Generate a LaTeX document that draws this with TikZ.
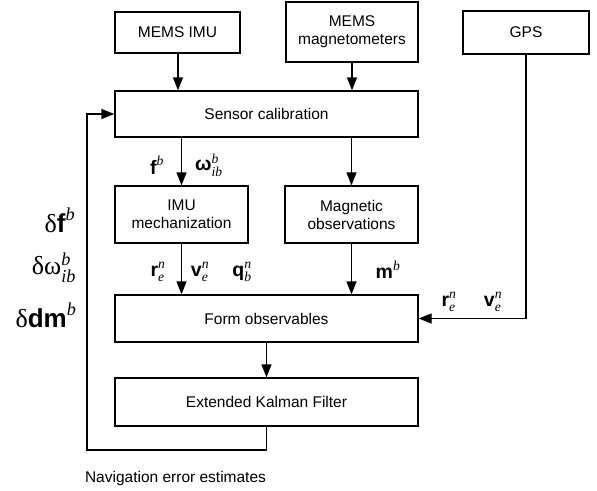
\documentclass[tikz,border=0pt]{standalone}
\usepackage{amsmath}
\usepackage{fontspec}
\setmainfont{Liberation Sans}
\newfontfamily\tms{Liberation Serif}
\usetikzlibrary{arrows.meta,positioning}
\newcommand{\sit}[1]{\text{\tms\itshape #1}}
\newcommand{\bsym}[1]{\textbf{#1}}
\begin{document}
\begin{tikzpicture}[x=1pt,y=-1pt,
  box/.style={draw,line width=1.2pt,inner sep=0pt,align=center,font=\fontsize{15.5}{18}\selectfont},
  conn/.style={line width=1.2pt,-{Triangle[length=13pt,width=10pt]}},
  lbl/.style={inner sep=0pt,font=\fontsize{19.5}{22}\selectfont},
  biglbl/.style={inner sep=0pt,font=\fontsize{26}{28}\selectfont}]
\useasboundingbox (0,0) rectangle (597,490);
\node[box,minimum width=125pt,minimum height=41pt] (imu) at (177.5,32.5) {MEMS IMU};
\node[box,minimum width=132pt,minimum height=60pt] (mag) at (352,32) {MEMS\\magnetometers};
\node[box,minimum width=126pt,minimum height=43pt] (gps) at (526,32.5) {GPS};
\node[box,minimum width=303pt,minimum height=46pt] (cal) at (266.5,114) {Sensor calibration};
\node[box,minimum width=133pt,minimum height=57pt] (mech) at (181.5,214.5) {IMU\\mechanization};
\node[box,minimum width=133pt,minimum height=57pt] (mobs) at (351.5,214.5) {Magnetic\\observations};
\node[box,minimum width=303pt,minimum height=47pt] (form) at (266.5,318.5) {Form observables};
\node[box,minimum width=303pt,minimum height=48pt] (ekf) at (266.5,402) {Extended Kalman Filter};
\coordinate (fbb) at (266.5,450);
\coordinate (fbl) at (87,450);
\draw[conn] (imu.south -| 178,0) -- (cal.north -| 178,0);
\draw[conn] (mag.south) -- (cal.north -| mag.south);
\draw[conn] (cal.south -| mech.north) -- (mech.north);
\draw[conn] (cal.south -| mobs.north) -- (mobs.north);
\draw[conn] (mech.south) -- (form.north -| mech.south);
\draw[conn] (mobs.south) -- (form.north -| mobs.south);
\draw[conn] (form.south) -- (ekf.north);
\draw[conn] (gps.south) |- (form.east);
\draw[conn] (ekf.south) -- (fbb) -- (fbl) |- (cal.west);
\node[lbl] (lf) at (157,165) {$\bsym{f}^{\sit{b}}$};
\node[lbl] (lw) at (209,165) {$\bsym{ω}^{\sit{b}}_{\sit{ib}}$};
\node[lbl] (lr) at (158,272) {$\bsym{r}^{\sit{n}}_{\sit{e}}$};
\node[lbl] (lv) at (200,272) {$\bsym{v}^{\sit{n}}_{\sit{e}}$};
\node[lbl] (lq) at (242,272) {$\bsym{q}^{\sit{n}}_{\sit{b}}$};
\node[lbl] (lm) at (388,270) {$\bsym{m}^{\sit{b}}$};
\node[lbl] (lr2) at (449,302) {$\bsym{r}^{\sit{n}}_{\sit{e}}$};
\node[lbl] (lv2) at (493,302) {$\bsym{v}^{\sit{n}}_{\sit{e}}$};
\node[biglbl] (df) at (60,220) {{\tms δ}$\bsym{f}^{\sit{b}}$};
\node[biglbl] (dw) at (54,268) {{\tms δ}$\text{\tms ω}^{\sit{b}}_{\sit{ib}}$};
\node[biglbl] (dm) at (46,315) {{\tms δ}$\bsym{dm}^{\sit{b}}$};
\node[inner sep=0pt,font=\fontsize{15.5}{18}\selectfont] (nav) at (175.5,478) {Navigation error estimates};
\end{tikzpicture}
\end{document}
